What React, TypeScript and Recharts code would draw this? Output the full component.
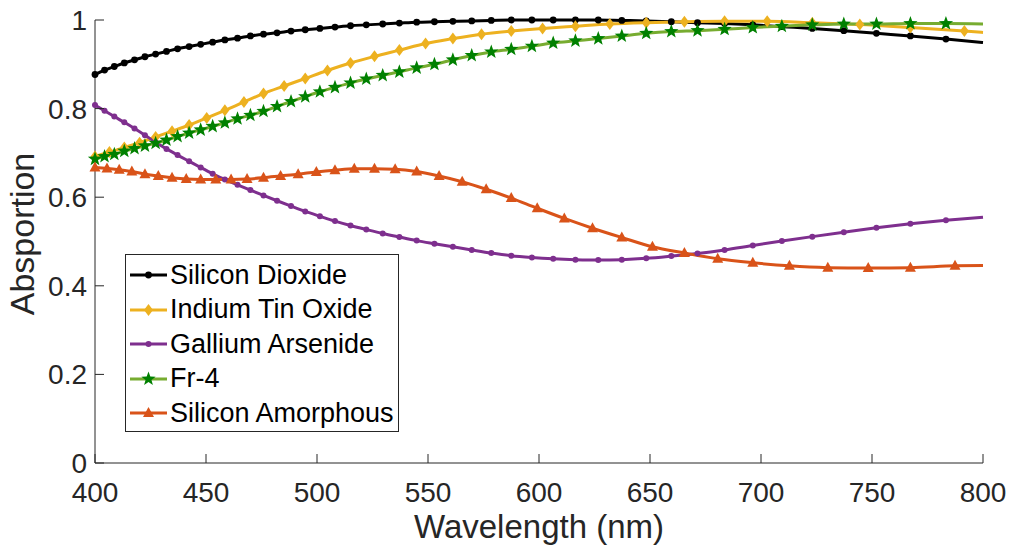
import React from 'react';
import { LineChart, Line, XAxis, YAxis, Legend } from 'recharts';

// wavelength positions (nm) of the samples; last one is the line end, drawn without a marker
const wlEvery4 = [
  400.0, 404.3, 408.7, 413.2, 417.8, 422.5, 427.3, 432.2, 437.2, 442.4, 447.6, 453.0, 458.5, 464.2, 470.0, 475.9,
  482.0, 488.3, 494.7, 501.3, 508.1, 515.1, 522.2, 529.6, 537.1, 544.9, 552.9, 561.2, 569.7, 578.5, 587.5, 596.8,
  606.4, 616.4, 626.7, 637.3, 648.3, 659.6, 671.4, 683.6, 696.3, 709.4, 723.1, 737.3, 752.0, 767.3, 783.3, 800.0,
];
const wlEvery6 = [
  400.0, 406.5, 413.2, 420.1, 427.3, 434.7, 442.4, 450.3, 458.5, 467.1, 475.9, 485.2, 494.7, 504.7, 515.1, 525.9,
  537.1, 548.9, 561.2, 574.1, 587.5, 601.6, 616.4, 631.9, 648.3, 665.5, 683.6, 702.8, 723.1, 744.5, 767.3, 791.6, 800.0,
];
const wlEvery5 = [
  400.0, 405.4, 410.9, 416.6, 422.5, 428.5, 434.7, 441.1, 447.6, 454.4, 461.3, 468.5, 475.9, 483.6, 491.5, 499.7,
  508.1, 516.8, 525.9, 535.2, 544.9, 555.0, 565.4, 576.2, 587.5, 599.2, 611.4, 624.1, 637.3, 651.1, 665.5, 680.5,
  696.3, 712.8, 730.1, 748.3, 767.3, 787.4, 800.0,
];

const siliconDioxide = [
  0.877, 0.887, 0.895, 0.903, 0.910, 0.917, 0.923, 0.929, 0.935, 0.940, 0.945, 0.950, 0.955, 0.959, 0.964, 0.968,
  0.971, 0.975, 0.978, 0.981, 0.984, 0.987, 0.989, 0.991, 0.993, 0.995, 0.996, 0.997, 0.998, 0.999, 1.000, 1.000,
  1.000, 1.000, 1.000, 0.999, 0.998, 0.996, 0.994, 0.992, 0.989, 0.985, 0.981, 0.976, 0.970, 0.964, 0.957, 0.949,
];
const indiumTinOxide = [
  0.692, 0.702, 0.712, 0.723, 0.736, 0.749, 0.763, 0.779, 0.796, 0.815, 0.834, 0.851, 0.868, 0.886, 0.903, 0.918,
  0.932, 0.947, 0.958, 0.968, 0.975, 0.981, 0.986, 0.991, 0.994, 0.996, 0.997, 0.997, 0.994, 0.990, 0.983, 0.975, 0.972,
];
const galliumArsenide = [
  0.808, 0.795, 0.782, 0.769, 0.755, 0.740, 0.724, 0.709, 0.695, 0.681, 0.667, 0.653, 0.640, 0.628, 0.616, 0.604,
  0.592, 0.580, 0.568, 0.557, 0.546, 0.536, 0.527, 0.518, 0.510, 0.502, 0.495, 0.488, 0.481, 0.474, 0.468, 0.464,
  0.461, 0.459, 0.458, 0.459, 0.462, 0.467, 0.473, 0.481, 0.491, 0.501, 0.511, 0.521, 0.531, 0.540, 0.548, 0.555,
];
const fr4 = [
  0.686, 0.692, 0.697, 0.704, 0.710, 0.716, 0.722, 0.729, 0.737, 0.745, 0.752, 0.760, 0.768, 0.777, 0.785, 0.794,
  0.805, 0.816, 0.827, 0.838, 0.848, 0.858, 0.867, 0.875, 0.883, 0.892, 0.900, 0.910, 0.920, 0.928, 0.934, 0.941,
  0.948, 0.953, 0.958, 0.964, 0.970, 0.974, 0.976, 0.979, 0.983, 0.986, 0.989, 0.991, 0.991, 0.992, 0.992, 0.991,
];
const siliconAmorphous = [
  0.667, 0.665, 0.662, 0.658, 0.652, 0.648, 0.644, 0.641, 0.640, 0.640, 0.640, 0.641, 0.644, 0.648, 0.652, 0.657,
  0.661, 0.664, 0.664, 0.663, 0.658, 0.648, 0.635, 0.618, 0.598, 0.575, 0.552, 0.530, 0.509, 0.488, 0.474, 0.461,
  0.452, 0.445, 0.441, 0.440, 0.441, 0.445, 0.446,
];

const xTicks = [400, 450, 500, 550, 600, 650, 700, 750, 800];
const yTicks = [0, 0.2, 0.4, 0.6, 0.8, 1];

const FONT = '"Liberation Sans", Arial, Helvetica, sans-serif';
const INK = '#262626';

type Shape = 'circle' | 'diamond' | 'dot' | 'star' | 'triangle';

const zip = (xs: number[], ys: number[]) => xs.map((wl, i) => ({ wl, v: ys[i] }));

const series = [
  { name: 'Silicon Dioxide', data: zip(wlEvery4, siliconDioxide), line: '#000000', mark: '#000000', shape: 'circle' as Shape },
  { name: 'Indium Tin Oxide', data: zip(wlEvery6, indiumTinOxide), line: '#EDB120', mark: '#EDB120', shape: 'diamond' as Shape },
  { name: 'Gallium Arsenide', data: zip(wlEvery4, galliumArsenide), line: '#7E2F8E', mark: '#7E2F8E', shape: 'dot' as Shape },
  { name: 'Fr-4', data: zip(wlEvery4, fr4), line: '#77AC30', mark: '#008000', shape: 'star' as Shape },
  { name: 'Silicon Amorphous', data: zip(wlEvery5, siliconAmorphous), line: '#D95319', mark: '#D95319', shape: 'triangle' as Shape },
];

function drawMarker(shape: Shape, cx: number, cy: number, color: string, key?: string) {
  if (shape === 'circle') return <circle key={key} cx={cx} cy={cy} r={3.4} fill={color} />;
  if (shape === 'dot') return <circle key={key} cx={cx} cy={cy} r={3} fill={color} />;
  if (shape === 'diamond') {
    const pts = `${cx},${cy - 6} ${cx + 4.5},${cy} ${cx},${cy + 6} ${cx - 4.5},${cy}`;
    return <polygon key={key} points={pts} fill={color} />;
  }
  if (shape === 'triangle') {
    const pts = `${cx},${cy - 6} ${cx + 5.5},${cy + 4} ${cx - 5.5},${cy + 4}`;
    return <polygon key={key} points={pts} fill={color} />;
  }
  const pts: string[] = [];
  for (let i = 0; i < 10; i++) {
    const a = (-90 + i * 36) * (Math.PI / 180);
    const r = i % 2 === 0 ? 7.5 : 3.1;
    pts.push(`${cx + r * Math.cos(a)},${cy + r * Math.sin(a)}`);
  }
  return <polygon key={key} points={pts.join(' ')} fill={color} />;
}

const makeDot = (shape: Shape, color: string) => (props: any) => {
  const { cx, cy, index, payload } = props;
  const k = `d-${shape}-${index}`;
  if (cx == null || cy == null || payload?.wl === 800) return <g key={k} />;
  return drawMarker(shape, cx, cy, color, k);
};

const XTick = (props: any) => {
  const { x, y, payload } = props;
  return (
    <g>
      <line x1={x} x2={x} y1={y} y2={y - 9} stroke={INK} strokeWidth={1} />
      <text x={x} y={y + 39} textAnchor="middle" fontSize={28} fill={INK} fontFamily={FONT}>
        {payload.value}
      </text>
    </g>
  );
};

const YTick = (props: any) => {
  const { x, y, payload } = props;
  return (
    <g>
      <line x1={x} x2={x + 9} y1={y} y2={y} stroke={INK} strokeWidth={1} />
      <text x={x - 8} y={y + 10} textAnchor="end" fontSize={28} fill={INK} fontFamily={FONT}>
        {payload.value}
      </text>
    </g>
  );
};

const LegendBox = () => (
  <div
    style={{
      width: 274,
      height: 178,
      boxSizing: 'border-box',
      border: `1px solid ${INK}`,
      background: '#ffffff',
      paddingTop: 3,
    }}
  >
    {series.map((s) => (
      <div key={s.name} style={{ display: 'flex', alignItems: 'center', height: 34.5 }}>
        <svg width={44} height={34} style={{ display: 'block' }}>
          <line x1={4} x2={41} y1={17} y2={17} stroke={s.line} strokeWidth={3} />
          {drawMarker(s.shape, 22.5, 17, s.mark)}
        </svg>
        <span style={{ fontSize: 27, fontFamily: FONT, color: '#000000', whiteSpace: 'nowrap', lineHeight: 1 }}>
          {s.name}
        </span>
      </div>
    ))}
  </div>
);

export default function App() {
  return (
    <div style={{ margin: -8, width: 1014, height: 553 }}>
      <LineChart width={1014} height={553} margin={{ top: 20, right: 31, left: 0, bottom: 0 }}>
        <XAxis
          dataKey="wl"
          type="number"
          domain={[400, 800]}
          ticks={xTicks}
          allowDuplicatedCategory={false}
          height={90}
          tickSize={0}
          tickMargin={0}
          tickLine={false}
          tick={<XTick />}
          axisLine={{ stroke: INK, strokeWidth: 1 }}
          label={{
            value: 'Wavelength (nm)',
            position: 'insideBottom',
            offset: 15,
            fontSize: 33,
            fill: INK,
            fontFamily: FONT,
          }}
        />
        <YAxis
          type="number"
          domain={[0, 1]}
          ticks={yTicks}
          width={95}
          tickSize={0}
          tickMargin={0}
          tickLine={false}
          tick={<YTick />}
          axisLine={{ stroke: INK, strokeWidth: 1 }}
          label={{
            content: () => (
              <text
                x={34}
                y={234}
                transform="rotate(-90 34 234)"
                textAnchor="middle"
                fontSize={34}
                fill={INK}
                fontFamily={FONT}
              >
                Absportion
              </text>
            ),
          }}
        />
        <Legend
          layout="vertical"
          align="center"
          verticalAlign="middle"
          content={() => <LegendBox />}
          wrapperStyle={{ left: 125, top: 254, width: 'auto', height: 'auto' }}
        />
        {series.map((s) => (
          <Line
            key={s.name}
            name={s.name}
            data={s.data}
            dataKey="v"
            type="monotone"
            stroke={s.line}
            strokeWidth={3}
            dot={makeDot(s.shape, s.mark)}
            activeDot={false}
            isAnimationActive={false}
          />
        ))}
      </LineChart>
    </div>
  );
}
